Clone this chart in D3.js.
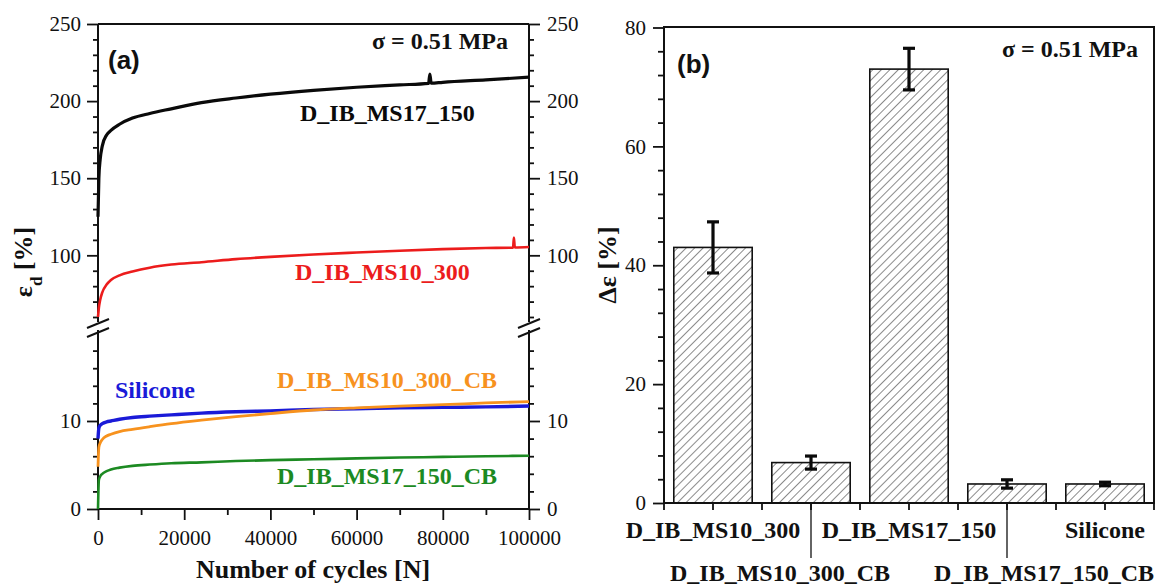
<!DOCTYPE html>
<html>
<head>
<meta charset="utf-8">
<script src="https://cdn.jsdelivr.net/npm/d3@7"></script>
<style>
  body { margin: 0; background: #fff; }
  svg { display: block; }
  text { font-family: "Liberation Serif", "Times New Roman", serif; fill: #111; }
</style>
</head>
<body>
<svg id="chart" width="1159" height="585"></svg>
<script>
// ---------- panel (a): creep strain vs. number of cycles ----------
const baseCycles = [0, 200, 500, 1000, 2000, 3000, 5000, 8000, 12000, 17000, 24000, 32000, 40000, 50000, 60000, 70000, 80000, 90000, 100000];

const cyclesMS17 = [0, 200, 500, 1000, 2000, 3000, 5000, 8000, 12000, 17000, 24000, 32000, 40000, 50000, 60000, 70000, 76700, 77000, 77300, 80000, 90000, 100000];
const strainMS17 = [125, 150, 162, 171, 178, 181, 185, 189, 192, 195, 199, 202, 204.5, 207, 209, 210.5, 211.5, 217.5, 211.6, 212.2, 213.8, 215.5];

const cyclesMS10 = [0, 200, 500, 1000, 2000, 3000, 5000, 8000, 12000, 17000, 24000, 32000, 40000, 50000, 60000, 70000, 80000, 90000, 96300, 96500, 96700, 100000];
const strainMS10 = [60, 66, 71, 76, 81, 84, 87, 89.5, 92, 94, 95.5, 97.5, 99, 100.5, 101.8, 103, 104, 104.7, 105, 111.5, 105.1, 105.4];

const strainSilicone = [8.0, 9.2, 9.5, 9.7, 9.9, 10.0, 10.2, 10.4, 10.55, 10.7, 10.9, 11.05, 11.15, 11.3, 11.4, 11.5, 11.55, 11.6, 11.7];
const strainMS10CB   = [4.8, 7.0, 7.5, 7.9, 8.3, 8.5, 8.8, 9.05, 9.35, 9.7, 10.1, 10.5, 10.85, 11.25, 11.5, 11.7, 11.85, 12.05, 12.2];
const strainMS17CB   = [0, 3.3, 3.7, 4.0, 4.3, 4.5, 4.7, 4.9, 5.05, 5.2, 5.3, 5.45, 5.55, 5.65, 5.75, 5.85, 5.92, 6.0, 6.05];

const xTicksA      = [0, 20000, 40000, 60000, 80000, 100000];
const xMinorTicksA = [10000, 30000, 50000, 70000, 90000];
const yTicksUpper      = [100, 150, 200, 250];
const yMinorTicksUpper = [60, 70, 80, 90, 110, 120, 130, 140, 160, 170, 180, 190, 210, 220, 230, 240];
const yTicksLower      = [0, 10];
const yMinorTicksLower = [2, 4, 6, 8, 12, 14, 16, 18];

// ---------- panel (b): strain increase per sample ----------
const samples   = ["D_IB_MS10_300", "D_IB_MS10_300_CB", "D_IB_MS17_150", "D_IB_MS17_150_CB", "Silicone"];
const deltaEps  = [43.0, 6.8, 73.0, 3.2, 3.2];
const deltaErr  = [4.3, 1.1, 3.5, 0.7, 0.3];
const yTicksB      = [0, 20, 40, 60, 80];
const yMinorTicksB = [4, 8, 12, 16, 24, 28, 32, 36, 44, 48, 52, 56, 64, 68, 72, 76];

const svg = d3.select("#chart");

// ===================== panel (a) =====================
const A = { left: 98, right: 529, top: 24, bottom: 509 };
const x = d3.scaleLinear().domain([0, 100000]).range([A.left, A.right]);
const yUp  = d3.scaleLinear().domain([60, 250]).range([317, A.top]);
const yLow = d3.scaleLinear().domain([0, 20]).range([A.bottom, 333]);

const gA = svg.append("g");

function styleAxis(g, size) {
  g.select(".domain").remove();
  g.selectAll(".tick line").attr("stroke", "#111").attr("stroke-width", 1.8);
  g.selectAll(".tick text").style("font-size", size + "px")
    .style("font-family", "'Liberation Serif', 'Times New Roman', serif").attr("fill", "#1a1a1a");
}

// left and right axes, upper and lower segments
[[yUp, yTicksUpper, yMinorTicksUpper], [yLow, yTicksLower, yMinorTicksLower]].forEach(([sc, maj, min]) => {
  gA.append("g").attr("transform", `translate(${A.left},0)`)
    .call(d3.axisLeft(sc).tickValues(min).tickSize(5).tickFormat(""))
    .call(g => styleAxis(g, 21));
  gA.append("g").attr("transform", `translate(${A.left},0)`)
    .call(d3.axisLeft(sc).tickValues(maj).tickSize(11).tickPadding(6).tickFormat(d3.format("d")))
    .call(g => styleAxis(g, 21));
  gA.append("g").attr("transform", `translate(${A.right},0)`)
    .call(d3.axisRight(sc).tickValues(min).tickSize(5).tickFormat(""))
    .call(g => styleAxis(g, 21));
  gA.append("g").attr("transform", `translate(${A.right},0)`)
    .call(d3.axisRight(sc).tickValues(maj).tickSize(11).tickPadding(7).tickFormat(d3.format("d")))
    .call(g => styleAxis(g, 21));
});

// bottom axis
gA.append("g").attr("transform", `translate(0,${A.bottom})`)
  .call(d3.axisBottom(x).tickValues(xMinorTicksA).tickSize(6).tickFormat(""))
  .call(g => styleAxis(g, 21));
gA.append("g").attr("transform", `translate(0,${A.bottom})`)
  .call(d3.axisBottom(x).tickValues(xTicksA).tickSize(11).tickPadding(10).tickFormat(d3.format("d")))
  .call(g => styleAxis(g, 21));

// frame with broken vertical axes
const frameA = gA.append("g").attr("stroke", "#111").attr("stroke-width", 2).attr("fill", "none");
frameA.append("line").attr("x1", A.left).attr("x2", A.right).attr("y1", A.top).attr("y2", A.top);
frameA.append("line").attr("x1", A.left).attr("x2", A.right).attr("y1", A.bottom).attr("y2", A.bottom);
[A.left, A.right].forEach(xx => {
  frameA.append("line").attr("x1", xx).attr("x2", xx).attr("y1", A.top).attr("y2", yUp(60) + 5);
  frameA.append("line").attr("x1", xx).attr("x2", xx).attr("y1", yLow(20) - 3).attr("y2", A.bottom);
  // break marks
  frameA.append("line").attr("x1", xx - 11).attr("y1", 328).attr("x2", xx + 11).attr("y2", 319);
  frameA.append("line").attr("x1", xx - 11).attr("y1", 337).attr("x2", xx + 11).attr("y2", 328);
});

// curves
const upperSeries = [
  { c: cyclesMS17, v: strainMS17, color: "#0a0a0a", w: 3.2 },
  { c: cyclesMS10, v: strainMS10, color: "#ec1c1c", w: 2.6 }
];
const lowerSeries = [
  { c: baseCycles, v: strainSilicone, color: "#1a1ad8", w: 3.4 },
  { c: baseCycles, v: strainMS10CB,   color: "#f7921e", w: 2.8 },
  { c: baseCycles, v: strainMS17CB,   color: "#1c8a22", w: 2.6 }
];
const lineUp  = d3.line().x(d => x(d[0])).y(d => yUp(d[1])).curve(d3.curveMonotoneX);
const lineLow = d3.line().x(d => x(d[0])).y(d => yLow(d[1])).curve(d3.curveMonotoneX);
upperSeries.forEach(s => {
  gA.append("path").datum(d3.zip(s.c, s.v)).attr("d", lineUp)
    .attr("fill", "none").attr("stroke", s.color).attr("stroke-width", s.w).attr("stroke-linejoin", "round");
});
lowerSeries.forEach(s => {
  gA.append("path").datum(d3.zip(s.c, s.v)).attr("d", lineLow)
    .attr("fill", "none").attr("stroke", s.color).attr("stroke-width", s.w).attr("stroke-linejoin", "round");
});

// annotations
const labelsA = [
  { t: "D_IB_MS17_150",    x: 300, y: 121, color: "#0a0a0a" },
  { t: "D_IB_MS10_300",    x: 295, y: 280, color: "#ec1c1c" },
  { t: "Silicone",         x: 115, y: 398, color: "#1a1ad8" },
  { t: "D_IB_MS10_300_CB", x: 277, y: 388, color: "#f7921e" },
  { t: "D_IB_MS17_150_CB", x: 277, y: 484, color: "#1c8a22" }
];
labelsA.forEach(l => {
  gA.append("text").attr("x", l.x).attr("y", l.y).text(l.t)
    .style("font-size", "24px").style("font-weight", "bold").style("fill", l.color);
});
gA.append("text").attr("x", 508).attr("y", 49).attr("text-anchor", "end")
  .style("font-size", "24px").style("font-weight", "bold").text("σ = 0.51 MPa");
gA.append("text").attr("x", 108).attr("y", 69)
  .style("font-family", "'Liberation Sans', Arial, sans-serif").style("font-size", "26px").style("font-weight", "bold").text("(a)");
gA.append("text").attr("x", 313).attr("y", 578).attr("text-anchor", "middle")
  .style("font-size", "26px").style("font-weight", "bold").text("Number of cycles [N]");
const yTitleA = gA.append("text").attr("transform", "translate(32,262) rotate(-90)").attr("text-anchor", "middle")
  .style("font-size", "26px").style("font-weight", "bold");
yTitleA.append("tspan").text("ε");
yTitleA.append("tspan").attr("baseline-shift", "sub").style("font-size", "17px").text("d");
yTitleA.append("tspan").text(" [%]");

// ===================== panel (b) =====================
const B = { left: 664, right: 1154, top: 27, bottom: 503 };
const xb = d3.scaleBand().domain(samples).range([B.left, B.right]).paddingInner(0.2).paddingOuter(0.1);
const yb = d3.scaleLinear().domain([0, 80]).range([B.bottom, 27.5]);
const gB = svg.append("g");

const defs = svg.append("defs");
const pat = defs.append("pattern").attr("id", "hatch").attr("patternUnits", "userSpaceOnUse")
  .attr("width", 6).attr("height", 6).attr("patternTransform", "rotate(45)");
pat.append("rect").attr("width", 6).attr("height", 6).attr("fill", "#fff");
pat.append("line").attr("x1", 0).attr("y1", 0).attr("x2", 0).attr("y2", 6)
  .attr("stroke", "#2a2a2a").attr("stroke-width", 1.1);

gB.append("g").attr("transform", `translate(${B.left},0)`)
  .call(d3.axisLeft(yb).tickValues(yMinorTicksB).tickSize(6).tickFormat(""))
  .call(g => styleAxis(g, 21));
gB.append("g").attr("transform", `translate(${B.left},0)`)
  .call(d3.axisLeft(yb).tickValues(yTicksB).tickSize(11).tickPadding(7).tickFormat(d3.format("d")))
  .call(g => styleAxis(g, 21));

// bars
gB.selectAll("rect.bar").data(samples).join("rect").attr("class", "bar")
  .attr("x", d => xb(d)).attr("width", xb.bandwidth())
  .attr("y", (d, i) => yb(deltaEps[i])).attr("height", (d, i) => yb(0) - yb(deltaEps[i]))
  .attr("fill", "url(#hatch)").attr("stroke", "#111").attr("stroke-width", 1.6);

// error bars
const eb = gB.append("g").attr("stroke", "#0a0a0a").attr("stroke-width", 3.2);
samples.forEach((s, i) => {
  const cx = xb(s) + xb.bandwidth() / 2;
  const hi = yb(deltaEps[i] + deltaErr[i]), lo = yb(deltaEps[i] - deltaErr[i]);
  eb.append("line").attr("x1", cx).attr("x2", cx).attr("y1", hi).attr("y2", lo);
  eb.append("line").attr("x1", cx - 6).attr("x2", cx + 6).attr("y1", hi).attr("y2", hi);
  eb.append("line").attr("x1", cx - 6).attr("x2", cx + 6).attr("y1", lo).attr("y2", lo);
});

// bottom ticks: bar centres and band edges
const step = xb.step();
const tickXs = [];
samples.forEach(s => { tickXs.push(xb(s) - step * 0.1); tickXs.push(xb(s) + xb.bandwidth() / 2); });
tickXs.push(B.right);
gB.append("g").selectAll("line").data(tickXs).join("line")
  .attr("x1", d => d).attr("x2", d => d).attr("y1", B.bottom).attr("y2", B.bottom + 7)
  .attr("stroke", "#111").attr("stroke-width", 1.8);

// frame
gB.append("rect").attr("x", B.left).attr("y", B.top).attr("width", B.right - B.left).attr("height", B.bottom - B.top)
  .attr("fill", "none").attr("stroke", "#111").attr("stroke-width", 2);

// staggered category labels; the lower row is nudged sideways so the two long names don't collide
const lowerRowShift = [0, -31, 0, 37, 0];
samples.forEach((s, i) => {
  const cx = xb(s) + xb.bandwidth() / 2;
  const low = i % 2 === 1;
  if (low) {
    gB.append("line").attr("x1", cx).attr("x2", cx).attr("y1", B.bottom).attr("y2", 558)
      .attr("stroke", "#111").attr("stroke-width", 1.3);
  }
  gB.append("text").attr("x", cx + lowerRowShift[i]).attr("y", low ? 581 : 538).attr("text-anchor", "middle")
    .style("font-size", "24px").style("font-weight", "bold").text(s);
});

gB.append("text").attr("x", 1138).attr("y", 57).attr("text-anchor", "end")
  .style("font-size", "24px").style("font-weight", "bold").text("σ = 0.51 MPa");
gB.append("text").attr("x", 677).attr("y", 73)
  .style("font-family", "'Liberation Sans', Arial, sans-serif").style("font-size", "26px").style("font-weight", "bold").text("(b)");
gB.append("text").attr("transform", "translate(616,265) rotate(-90)").attr("text-anchor", "middle")
  .style("font-size", "26px").style("font-weight", "bold").text("Δε [%]");
</script>
</body>
</html>
